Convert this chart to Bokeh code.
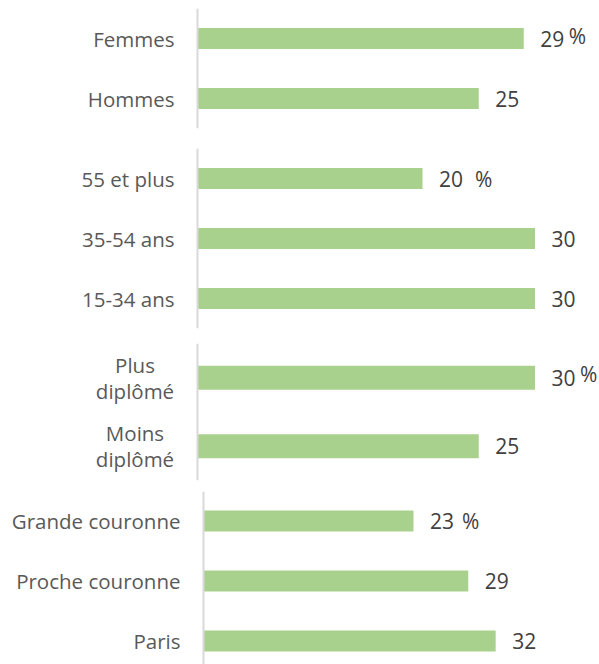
from bokeh.plotting import figure
from bokeh.layouts import column
from bokeh.models import FactorRange, Range1d, ColumnDataSource, Span
from bokeh.core.properties import value
from bokeh.embed import file_html
from bokeh.resources import INLINE

# ---- data ----
cats_sexe = ["Femmes", "Hommes"]
vals_sexe = [29, 25]
cats_age = ["55 et plus", "35-54 ans", "15-34 ans"]
vals_age = [20, 30, 30]
cats_dipl = ["Plus\ndiplômé", "Moins\ndiplômé"]
vals_dipl = [30, 25]
cats_geo = ["Grande couronne", "Proche couronne", "Paris"]
vals_geo = [23, 29, 32]
pct_mark = "%"

BAR = "#A9D18E"
AXIS = "#D9D9D9"
LABEL_COL = "#595959"
VALUE_COL = "#404040"
FONT = "Open Sans"
LBL_SIZE = "20.5px"
VAL_SIZE = "21px"
WIDTH = 599
SCALE_A = 11.25   # px per unit, first three panels
SCALE_B = 9.13    # px per unit, last panel


def panel(cats, vals, y_range, top, frame_h, bottom, zero_px, scale,
          pct_off, pct_dy, lbl_align="right", lbl_off=-23, ypos=None):
    p = figure(width=WIDTH, height=top + frame_h + bottom, title=None,
               y_range=y_range,
               x_range=Range1d(-zero_px / scale, (WIDTH - zero_px) / scale),
               x_axis_location=None, y_axis_location=None,
               output_backend="svg", toolbar_location=None,
               min_border_left=0, min_border_right=0,
               min_border_top=top, min_border_bottom=bottom)
    p.outline_line_color = None
    p.xgrid.visible = False
    p.ygrid.visible = False
    ys = cats if ypos is None else ypos
    src = ColumnDataSource(dict(y=ys, name=cats, v=vals, t=[str(v) for v in vals]))
    p.hbar(y="y", right="v", left=0, height=0.35, source=src,
           fill_color=BAR, line_color=None)
    # category labels, left of the axis line
    p.text(x=0, y="y", text="name", source=src, x_offset=lbl_off,
           text_baseline="middle", text_align=lbl_align, text_line_height=0.93,
           text_font=value(FONT), text_font_size=LBL_SIZE, text_color=LABEL_COL)
    # values
    p.text(x="v", y="y", text="t", source=src, x_offset=16.5,
           text_baseline="middle", text_align="left",
           text_font=value(FONT), text_font_size=VAL_SIZE, text_color=VALUE_COL)
    p.text(x=[vals[0]], y=[ys[0]], text=[pct_mark], x_offset=pct_off, y_offset=pct_dy,
           text_baseline="middle", text_align="left",
           text_font=value(FONT), text_font_size=VAL_SIZE, text_color=VALUE_COL)
    # vertical axis line
    p.add_layout(Span(location=0, dimension="height", line_color=AXIS, line_width=2))
    return p


p1 = panel(cats_sexe, vals_sexe,
           FactorRange(factors=list(reversed(cats_sexe)), range_padding=0),
           8, 120, 20, 197, SCALE_A, 45, -3)
p2 = panel(cats_age, vals_age,
           FactorRange(factors=list(reversed(cats_age)), range_padding=0),
           0, 180, 15, 197, SCALE_A, 52.5, 0)
p3 = panel(cats_dipl, vals_dipl,
           FactorRange(factors=list(reversed(cats_dipl)), range_padding=0),
           0, 137, 11, 197, SCALE_A, 45, -3.5, lbl_align="center", lbl_off=-62.5)
pos_geo = list(range(len(cats_geo)))
p4 = panel(cats_geo, vals_geo, Range1d(2.3917, -0.4917),
           0, 173, 0, 203, SCALE_B, 48.5, 0, ypos=pos_geo)

layout = column(p1, p2, p3, p4, spacing=0)
open("out.html", "w").write(file_html(layout, INLINE))
